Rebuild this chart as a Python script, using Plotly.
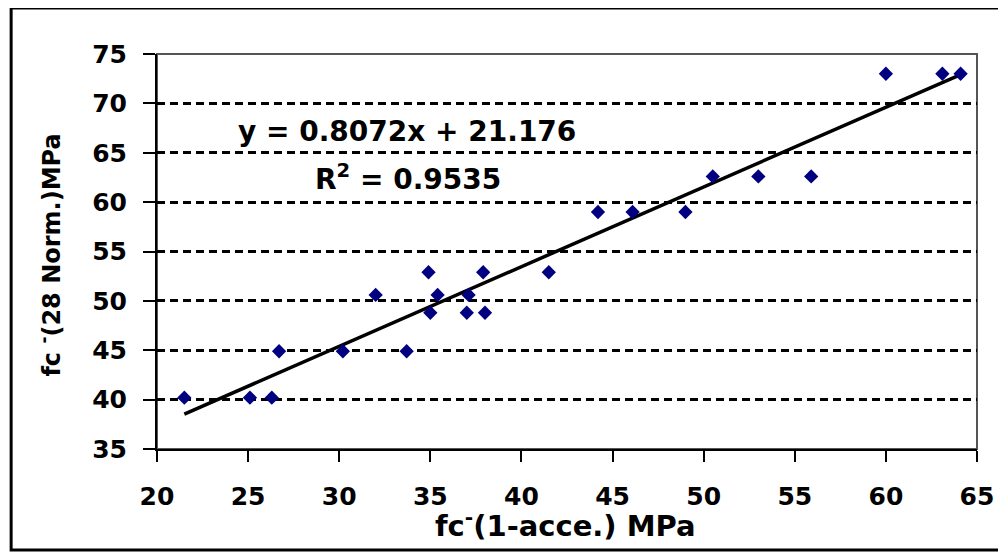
import plotly.graph_objects as go

# Data
x_accel = [21.5, 25.1, 26.3, 26.7, 30.2, 32.0, 33.7, 34.9, 35.0, 35.4, 37.0, 37.1,
           37.9, 38.0, 41.5, 44.2, 46.1, 49.0, 50.5, 53.0, 55.9, 60.0, 63.1, 64.1]
y_norm = [40.2, 40.2, 40.2, 44.9, 44.9, 50.6, 44.9, 52.9, 48.8, 50.6, 48.8, 50.6,
          52.9, 48.8, 52.9, 59.0, 59.0, 59.0, 62.6, 62.6, 62.6, 73.0, 73.0, 73.0]

slope = 0.8072
intercept = 21.176
r_squared = 0.9535

x_ticks = [20, 25, 30, 35, 40, 45, 50, 55, 60, 65]
y_ticks = [35, 40, 45, 50, 55, 60, 65, 70, 75]

x_title = "fc<sup>-</sup>(1-acce.) MPa"
y_title = "fc <sup>-</sup>(28 Norm.)MPa"

FONT = "DejaVu Sans"

trend_x = [min(x_accel), max(x_accel)]
trend_y = [slope * v + intercept for v in trend_x]

fig = go.Figure()
fig.add_trace(go.Scatter(
    x=trend_x, y=trend_y, mode="lines",
    line=dict(color="black", width=3.5), hoverinfo="skip", showlegend=False))
fig.add_trace(go.Scatter(
    x=x_accel, y=y_norm, mode="markers",
    marker=dict(symbol="diamond", size=11, color="#000080",
                line=dict(width=0)),
    showlegend=False))

# page body has an 8px margin; the figure is sized and offset to compensate
fig.update_layout(
    width=998, height=545,
    margin=dict(l=149, r=17, t=46, b=104),
    paper_bgcolor="white", plot_bgcolor="white",
    font=dict(family=FONT, color="black", size=25, weight="bold"),
    showlegend=False,
)
fig.update_xaxes(
    range=[20, 65], tickvals=x_ticks, ticktext=[str(t) for t in x_ticks],
    showgrid=False, zeroline=False,
    showline=True, linecolor="black", linewidth=2,
    ticks="outside", ticklen=11, tickwidth=2, tickcolor="black",
    tickfont=dict(family=FONT, size=25, weight="bold"),
    ticklabelstandoff=13, ticklabeloverflow="allow",
)
fig.update_yaxes(
    range=[35, 75], tickvals=y_ticks, ticktext=[str(t) for t in y_ticks],
    showgrid=True, gridcolor="black", gridwidth=3, griddash="8px,5px",
    zeroline=False,
    showline=True, linecolor="black", linewidth=2,
    ticks="outside", ticklen=12, tickwidth=2, tickcolor="black",
    tickfont=dict(family=FONT, size=25, weight="bold"),
    ticklabelstandoff=11,
)

# plot-area border (gray) and outer chart border (black)
fig.add_shape(type="rect", xref="paper", yref="paper", x0=0, x1=1, y0=0, y1=1,
              line=dict(color="#555555", width=2), layer="below")
fig.add_shape(type="rect", xref="paper", yref="paper",
              x0=(9 - 157) / 832, x1=(1012 - 157) / 832,
              y0=(449 - 550) / 395, y1=(449 - 8) / 395,
              line=dict(color="black", width=3), layer="above")

fig.add_annotation(x=33.7, y=67.2, xref="x", yref="y",
                   text=f"y = {slope}x + {intercept}", showarrow=False,
                   font=dict(family=FONT, size=28, weight="bold"))
fig.add_annotation(x=33.8, y=62.5, xref="x", yref="y",
                   text=f"R<sup>2</sup> = {r_squared}", showarrow=False,
                   font=dict(family=FONT, size=28, weight="bold"))

fig.add_annotation(x=(571 - 157) / 832, y=(449 - 524) / 395, xref="paper", yref="paper",
                   text=x_title, showarrow=False, xanchor="center", yanchor="middle",
                   font=dict(family=FONT, size=29, weight="bold"))
fig.add_annotation(x=(48 - 157) / 832, y=(449 - 255) / 395, xref="paper", yref="paper",
                   text=y_title, showarrow=False, textangle=-90,
                   xanchor="center", yanchor="middle",
                   font=dict(family=FONT, size=24, weight="bold"))

fig.write_html("out.html")
